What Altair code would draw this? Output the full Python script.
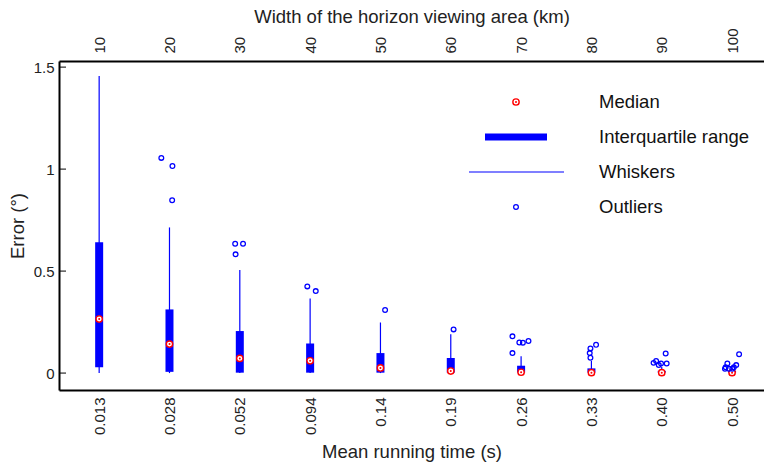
import altair as alt
import pandas as pd

# Horizon viewing width (km) and the mean running time for each width
widths = [10, 20, 30, 40, 50, 60, 70, 80, 90, 100]
run_times = ["0.013", "0.028", "0.052", "0.094", "0.14", "0.19", "0.26", "0.33", "0.40", "0.50"]

# Box-plot statistics of the error (degrees)
whisker_lo = [0.0, 0.0, 0.0, 0.0, 0.0, 0.0, 0.0, 0.0, 0.0, 0.0]
q1 = [0.028, 0.006, 0.002, 0.002, 0.002, 0.002, 0.002, 0.002, 0.002, 0.002]
median = [0.265, 0.142, 0.072, 0.060, 0.025, 0.010, 0.004, 0.002, 0.002, 0.002]
q3 = [0.641, 0.312, 0.206, 0.145, 0.098, 0.074, 0.036, 0.023, 0.011, 0.012]
whisker_hi = [1.457, 0.714, 0.505, 0.366, 0.248, 0.190, 0.083, 0.060, 0.030, 0.030]

# Outliers (jittered width position, error)
outlier_x = [18.84, 20.42, 20.38,
             29.34, 30.46, 29.40,
             39.6, 40.8,
             50.66,
             60.4,
             68.77, 69.75, 70.25, 71.05, 68.77,
             80.66, 79.86, 79.76, 79.86,
             90.56, 88.84, 89.2, 89.58, 89.9, 90.7,
             101.0, 99.33, 99.09, 98.99, 99.55, 100.03, 100.25, 100.59]
outlier_err = [1.055, 1.015, 0.847,
               0.634, 0.634, 0.582,
               0.425, 0.402,
               0.309,
               0.214,
               0.180, 0.150, 0.149, 0.157, 0.098,
               0.139, 0.121, 0.098, 0.075,
               0.096, 0.050, 0.059, 0.039, 0.047, 0.047,
               0.092, 0.047, 0.028, 0.021, 0.021, 0.021, 0.028, 0.039]

y_ticks = [0, 0.5, 1, 1.5]
legend_labels = ["Median", "Interquartile range", "Whiskers", "Outliers"]

stats = pd.DataFrame({
    "width": widths, "lo": whisker_lo, "q1": q1, "median": median,
    "q3": q3, "hi": whisker_hi,
})
outliers = pd.DataFrame({"width": outlier_x, "err": outlier_err})
ticks = pd.DataFrame({"v": y_ticks})
one = pd.DataFrame({"k": [0]})

BLUE = "#0000ff"
RED = "#ff0000"
FONT = "Liberation Sans"

xscale = alt.Scale(domain=[5, 103.83], nice=False, zero=False)
yscale = alt.Scale(domain=[-0.083, 1.53], nice=False, zero=False)
yaxis = alt.Axis(values=y_ticks, title="Error (°)", ticks=False, labelPadding=5,
                 titlePadding=6,
                 labelExpr="datum.value == 0 ? '0' : format(datum.value, '.2~f')")


def Y(field):
    return alt.Y(f"{field}:Q", scale=yscale, axis=yaxis)


labels_expr = "[" + ",".join(f"'{t}'" for t in run_times) + "][round(datum.value / 10) - 1]"

# whiskers carry the top (width) axis
whiskers = alt.Chart(stats).mark_rule(color=BLUE, strokeWidth=1.2).encode(
    x=alt.X("width:Q", scale=xscale,
            axis=alt.Axis(orient="top", values=widths, format="d", ticks=False,
                          labelAngle=270, labelAlign="left", labelBaseline="middle",
                          labelPadding=8, titlePadding=1,
                          title="Width of the horizon viewing area (km)")),
    y=Y("lo"), y2="hi:Q",
)

# interquartile boxes carry the bottom (running time) axis
boxes = alt.Chart(stats).mark_bar(color=BLUE, size=8).encode(
    x=alt.X("width:Q", scale=xscale,
            axis=alt.Axis(orient="bottom", values=widths, labelExpr=labels_expr,
                          ticks=False, labelAngle=270, labelAlign="right",
                          labelBaseline="middle", labelPadding=7, titlePadding=8,
                          title="Mean running time (s)")),
    y=Y("q1"), y2="q3:Q",
)

med_ring = alt.Chart(stats).mark_point(
    shape="circle", filled=True, fill="white", stroke=RED, strokeWidth=1.4,
    size=40, opacity=1,
).encode(x=alt.X("width:Q", scale=xscale, axis=None), y=Y("median"))

med_dot = alt.Chart(stats).mark_circle(color=RED, size=4, opacity=1).encode(
    x=alt.X("width:Q", scale=xscale, axis=None), y=Y("median"))

outl = alt.Chart(outliers).mark_point(
    shape="circle", filled=False, color=BLUE, strokeWidth=1.3, size=22, opacity=1,
).encode(x=alt.X("width:Q", scale=xscale, axis=None), y=Y("err"))

# inward tick marks on the error axis
yticks = alt.Chart(ticks).mark_rule(color="black", strokeWidth=1).encode(
    x=alt.value(0), x2=alt.value(7), y=Y("v"))

# legend
LX, TX = 457, 540
LY = [41, 76, 111, 146]
leg_ring = alt.Chart(one).mark_point(
    shape="circle", filled=True, fill="white", stroke=RED, strokeWidth=1.4,
    size=40, opacity=1).encode(x=alt.value(LX), y=alt.value(LY[0]))
leg_dot = alt.Chart(one).mark_circle(color=RED, size=4, opacity=1).encode(
    x=alt.value(LX), y=alt.value(LY[0]))
leg_box = alt.Chart(one).mark_rule(color=BLUE, strokeWidth=7).encode(
    x=alt.value(426), x2=alt.value(488), y=alt.value(LY[1]))
leg_whisk = alt.Chart(one).mark_rule(color=BLUE, strokeWidth=1.2).encode(
    x=alt.value(410), x2=alt.value(505), y=alt.value(LY[2]))
leg_out = alt.Chart(one).mark_point(
    shape="circle", filled=False, color=BLUE, strokeWidth=1.3, size=22,
    opacity=1).encode(x=alt.value(LX), y=alt.value(LY[3]))
leg_text = [
    alt.Chart(one).mark_text(text=lab, align="left", baseline="middle",
                             font=FONT, fontSize=18.5, color="#111").encode(
        x=alt.value(TX), y=alt.value(y))
    for lab, y in zip(legend_labels, LY)
]

chart = alt.layer(
    whiskers, boxes, med_ring, med_dot, outl, yticks,
    leg_ring, leg_dot, leg_box, leg_whisk, leg_out, *leg_text,
).resolve_scale(x="shared", y="shared").resolve_axis(x="independent").properties(
    width=705, height=329,
    autosize=alt.AutoSizeParams(type="none"),
    padding={"left": 59, "top": 61, "right": 0, "bottom": 73},
    background="white",
).configure_view(stroke=None).configure_axis(
    grid=False, domainColor="black", domainWidth=2,
    labelFont=FONT, labelFontSize=15, labelColor="#222",
    titleFont=FONT, titleFontSize=18.5, titleFontWeight="normal", titleColor="#222",
)

chart.save("out.html", embed_options={"renderer": "svg", "actions": False})
